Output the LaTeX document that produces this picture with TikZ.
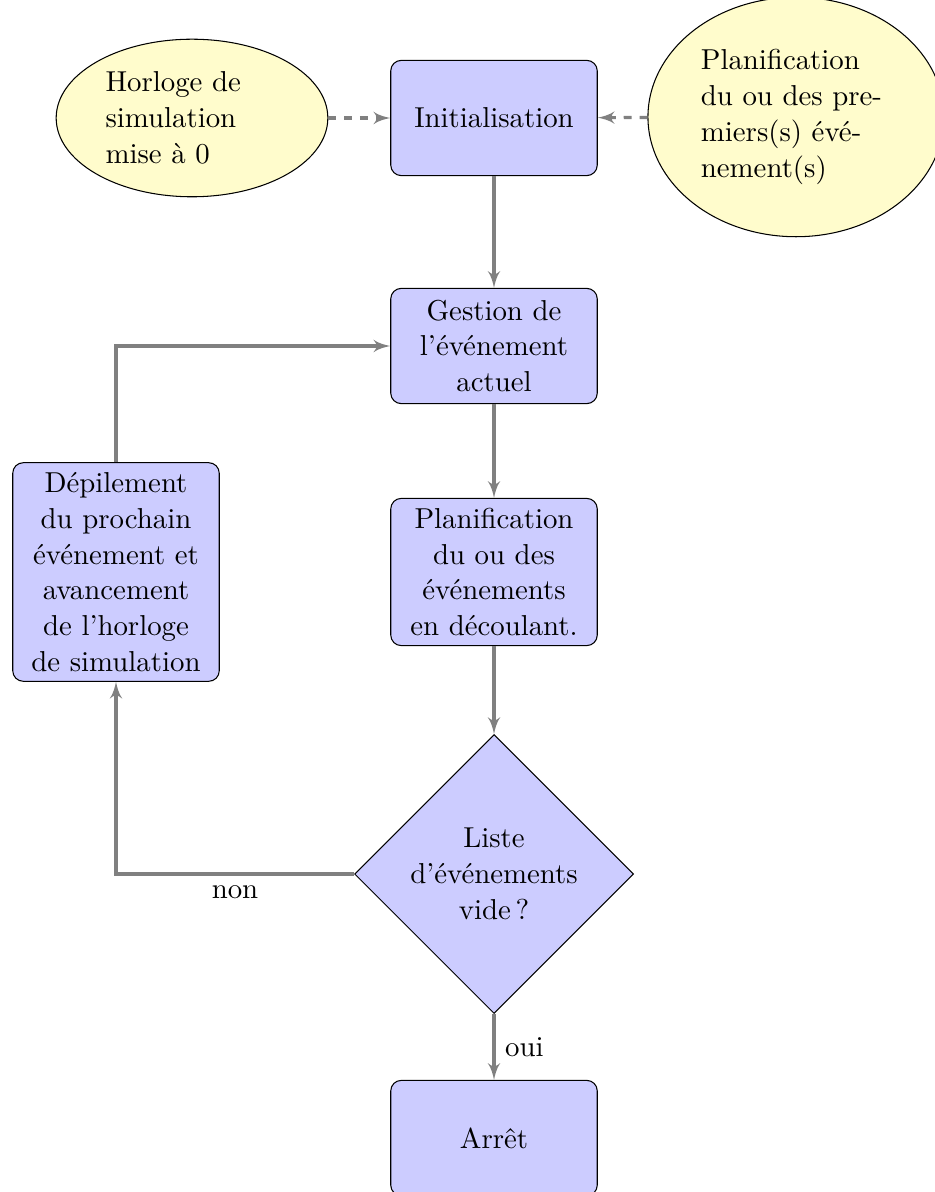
\documentclass[tikz,border=0pt,11pt]{standalone}
\usetikzlibrary{shapes.geometric,arrows}

\begin{document}
\begin{tikzpicture}[x=0.38pt,y=0.38pt,yscale=-1,xscale=1,
  bloc/.style={rectangle,draw,fill=blue!20,text width=6.5em,align=center,rounded corners,minimum height=4em},
  choix/.style={diamond,draw,fill=blue!20,text width=6em,align=center,inner sep=0pt,minimum size=106pt},
  nuage/.style={ellipse,draw,fill=yellow!20,text width=6em,align=left},
  fleche/.style={draw=gray,very thick,-latex'},
  fleche pointillee/.style={fleche,dashed}]
%set diagram from (0,0) to (934,1192)
\useasboundingbox (0,0) rectangle (934,1192);

%Shape: Ellipse [id:horloge]
\node [nuage] (horloge) at (192,118) {Horloge de\\simulation\\mise à 0};
%Shape: Ellipse [id:premiers]
\node [nuage,text width=6.6em,minimum height=91pt] (premiers) at (796,117) {Planification\\du ou des pre-\\miers(s) évé-\\nement(s)};
%Shape: Rectangle [id:init]
\node [bloc] (init) at (494,118) {Initialisation};
%Shape: Rectangle [id:gestion]
\node [bloc] (gestion) at (494,346) {Gestion de l’événement actuel};
%Shape: Rectangle [id:planif]
\node [bloc] (planif) at (494,572) {Planification du ou des événements en découlant.};
%Shape: Rectangle [id:depil]
\node [bloc] (depil) at (116,572) {Dépilement du prochain événement et avancement de l’horloge de simulation};
%Shape: Diamond [id:liste]
\node [choix] (liste) at (494,874) {Liste d’événements vide\,?};
%Shape: Rectangle [id:arret]
\node [bloc] (arret) at (494,1138) {Arrêt};

%Straight Lines
\draw [fleche pointillee] (horloge) -- (init);
\draw [fleche pointillee] (premiers) -- (init);
\draw [fleche] (init) -- (gestion);
\draw [fleche] (gestion) -- (planif);
\draw [fleche] (planif) -- (liste);
\draw [fleche] (liste) -- node [right] {oui} (arret);
%Elbow Lines
\draw [fleche] (liste) -| node [pos=0.25,below] {non} (depil);
\draw [fleche] (depil) |- (gestion);

\end{tikzpicture}
\end{document}
